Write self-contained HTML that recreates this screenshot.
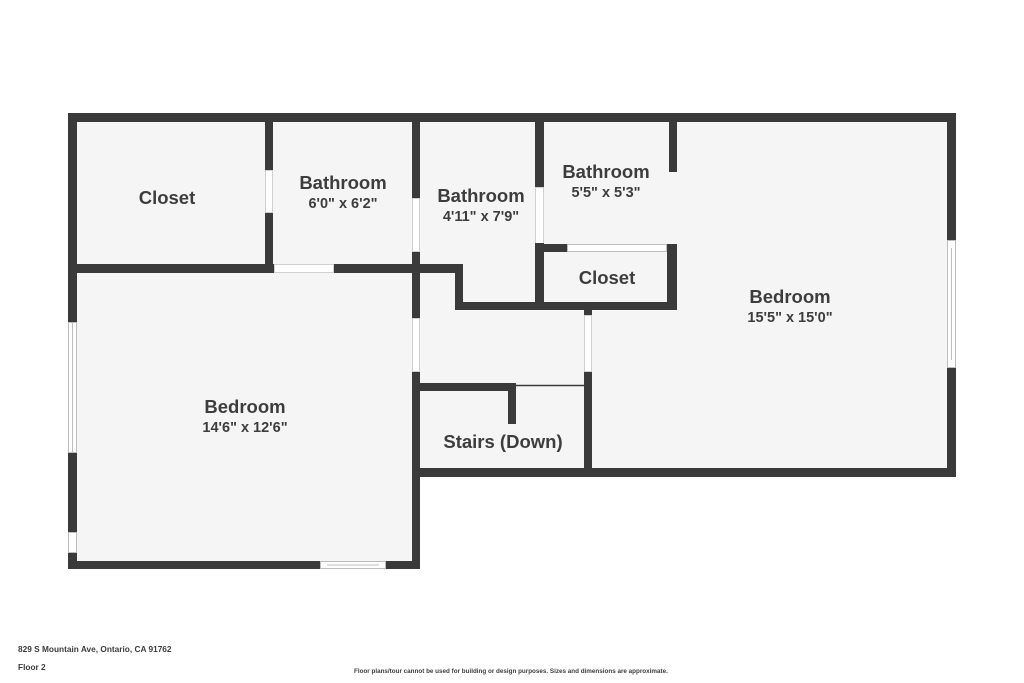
<!DOCTYPE html>
<html><head><meta charset="utf-8"><style>
html,body{margin:0;padding:0;background:#fff;width:1024px;height:683px;overflow:hidden}
svg{display:block}
text{font-family:"Liberation Sans",sans-serif;fill:#3d3d3d}
.t{font-size:18.5px;font-weight:bold}
.d{font-size:14.5px;font-weight:bold}
</style></head><body>
<svg width="1024" height="683" viewBox="0 0 1024 683">
<g fill="#f5f5f5">
<rect x="68" y="113" width="888" height="364"/>
<rect x="68" y="470" width="352" height="99"/>
</g>
<rect x="420" y="477" width="540" height="100" fill="#fff"/>
<!-- door openings (white) -->
<g fill="#fff" stroke="#d0d0d0" stroke-width="1">
<rect x="265.5" y="170.5" width="7" height="42"/>
<rect x="274.5" y="264.5" width="59" height="8"/>
<rect x="412.5" y="198.5" width="7" height="53"/>
<rect x="412.5" y="318.5" width="7" height="53"/>
<rect x="535.5" y="187.5" width="8" height="56"/>
<rect x="584.5" y="315.5" width="7" height="56"/>
</g>
<g fill="#3a3a3a">
<rect x="68" y="113" width="888" height="9"/>
<rect x="68" y="113" width="9" height="456"/>
<rect x="947" y="113" width="9" height="364"/>
<rect x="412" y="468" width="544" height="9"/>
<rect x="68" y="561" width="352" height="8"/>
<rect x="412" y="372" width="8" height="197"/>
<rect x="265" y="113" width="8" height="57"/>
<rect x="265" y="213" width="8" height="60"/>
<rect x="68" y="264" width="206" height="9"/>
<rect x="334" y="264" width="129" height="9"/>
<rect x="412" y="113" width="8" height="85"/>
<rect x="412" y="252" width="8" height="66"/>
<rect x="455" y="264" width="8" height="46"/>
<rect x="455" y="302" width="222" height="8"/>
<rect x="535" y="113" width="9" height="74"/>
<rect x="535" y="243" width="9" height="67"/>
<rect x="669" y="113" width="8" height="59"/>
<rect x="535" y="244" width="32" height="8"/>
<rect x="667" y="244" width="10" height="66"/>
<rect x="584" y="302" width="8" height="13"/>
<rect x="584" y="372" width="8" height="105"/>
<rect x="412" y="383" width="104" height="8"/>
<rect x="508" y="383" width="8" height="41"/>
</g>
<g stroke="#bdbdbd" stroke-width="1" fill="#fff">
<rect x="567.5" y="244.5" width="99" height="7"/>
<line x1="516" y1="385.5" x2="584" y2="385.5" stroke="#3a3a3a" stroke-width="1.5"/>
<rect x="68.5" y="322.5" width="8" height="130"/>
<line x1="72.5" y1="323" x2="72.5" y2="452"/>
<rect x="68.5" y="532.5" width="8" height="20"/>
<rect x="947.5" y="240.5" width="8" height="127"/>
<line x1="951.5" y1="248" x2="951.5" y2="360"/>
<rect x="320.5" y="561.5" width="65" height="7"/>
<line x1="327" y1="565" x2="379" y2="565"/>
</g>
<text class="t" x="167" y="204" text-anchor="middle">Closet</text>
<text class="t" x="343" y="189" text-anchor="middle">Bathroom</text>
<text class="d" x="343" y="208" text-anchor="middle">6'0" x 6'2"</text>
<text class="t" x="481" y="202" text-anchor="middle">Bathroom</text>
<text class="d" x="481" y="221" text-anchor="middle">4'11" x 7'9"</text>
<text class="t" x="606" y="178" text-anchor="middle">Bathroom</text>
<text class="d" x="606" y="197" text-anchor="middle">5'5" x 5'3"</text>
<text class="t" x="607" y="284" text-anchor="middle">Closet</text>
<text class="t" x="790" y="303" text-anchor="middle">Bedroom</text>
<text class="d" x="790" y="322" text-anchor="middle">15'5" x 15'0"</text>
<text class="t" x="245" y="413" text-anchor="middle">Bedroom</text>
<text class="d" x="245" y="432" text-anchor="middle">14'6" x 12'6"</text>
<text class="t" x="503" y="448" text-anchor="middle">Stairs (Down)</text>
<text x="18" y="652" style="font-size:8.3px;font-weight:bold">829 S Mountain Ave, Ontario, CA 91762</text>
<text x="18" y="670" style="font-size:8.3px;font-weight:bold">Floor 2</text>
<text x="354" y="673" style="font-size:6.3px;font-weight:bold">Floor plans/tour cannot be used for building or design purposes. Sizes and dimensions are approximate.</text>
</svg>
</body></html>
